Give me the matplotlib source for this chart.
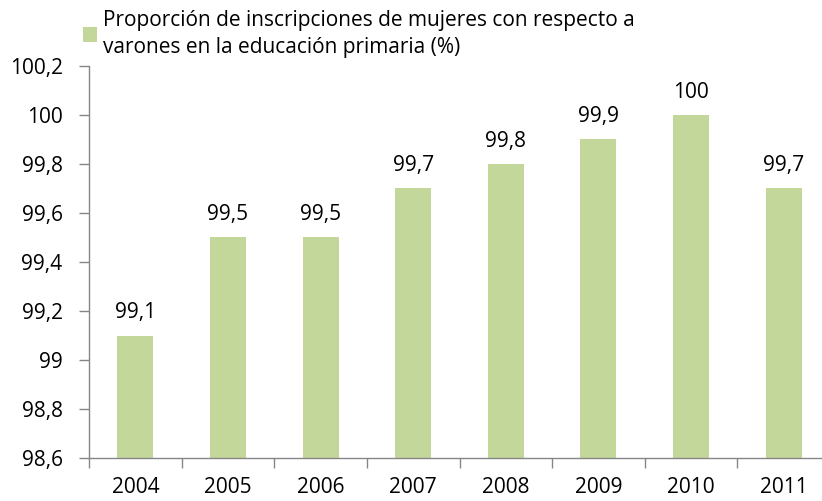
import matplotlib.pyplot as plt
import numpy as np

# Datos
years = ['2004', '2005', '2006', '2007', '2008', '2009', '2010', '2011']
values = [99.1, 99.5, 99.5, 99.7, 99.8, 99.9, 100.0, 99.7]
y_ticks = [98.6, 98.8, 99.0, 99.2, 99.4, 99.6, 99.8, 100.0, 100.2]
legend_label = ('Proporción de inscripciones de mujeres con respecto a\n'
                'varones en la educación primaria (%)')

bar_color = '#c4d79b'
axis_color = '#868686'
fs = 15


def fmt(v):
    s = f'{v:.1f}'.rstrip('0').rstrip('.')
    return s.replace('.', ',')


plt.rcParams['font.family'] = ['Open Sans', 'DejaVu Sans']

fig = plt.figure(figsize=(8.22, 5.01), dpi=100)
ax = fig.add_axes([89 / 822, 43 / 501, 741 / 822, 392 / 501])

x = np.arange(len(years))
base = y_ticks[0]
bars = ax.bar(x, [v - base for v in values], bottom=base, width=0.39,
              color=bar_color, label=legend_label)

for xi, v in zip(x, values):
    ax.text(xi, v + 0.05, fmt(v), ha='center', va='bottom', fontsize=fs)

ax.set_xlim(-0.5, len(years) - 0.5)
ax.set_ylim(y_ticks[0], y_ticks[-1])
ax.set_yticks(y_ticks)
ax.set_yticklabels([fmt(t) for t in y_ticks], fontsize=fs)

# categorías centradas, marcas entre categorías
ax.set_xticks(x)
ax.set_xticklabels(years, fontsize=fs)
ax.set_xticks(np.arange(len(years) + 1) - 0.5, minor=True)
ax.tick_params(axis='x', which='major', length=0, pad=14)
ax.tick_params(axis='x', which='minor', length=7, color=axis_color, width=1)
ax.tick_params(axis='y', length=7, color=axis_color, width=1, pad=12)

for side in ['top', 'right']:
    ax.spines[side].set_visible(False)
for side in ['left', 'bottom']:
    ax.spines[side].set_color(axis_color)
    ax.spines[side].set_linewidth(1)

leg = ax.legend(loc='upper left', bbox_to_anchor=(-0.02, 1.165),
                frameon=False, fontsize=fs, handlelength=0.7,
                handleheight=0.7, handletextpad=0.3, borderaxespad=0)
for t in leg.get_texts():
    t.set_linespacing(1.4)

fig.savefig('out.png', dpi=100)
